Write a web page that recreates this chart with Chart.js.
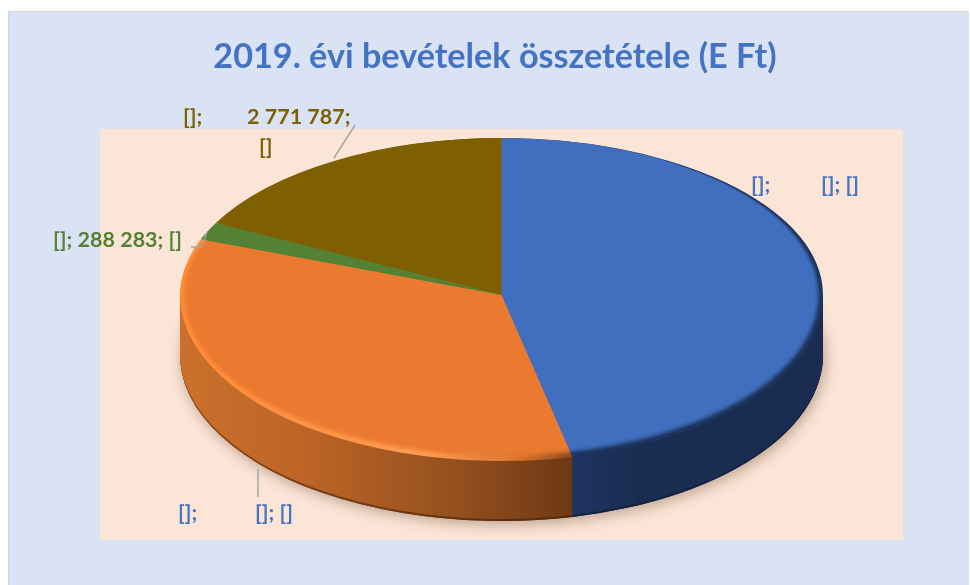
<!DOCTYPE html>
<html>
<head>
<meta charset="utf-8">
<script src="https://cdn.jsdelivr.net/npm/chart.js@4"></script>
<style>
  html, body { margin: 0; padding: 0; background: #fff; overflow: hidden; }
  #panel { position: absolute; left: 8px; top: 11px; width: 961px; height: 574px; background: #DAE3F3; border: 1px solid #D4D4D4; border-width: 1px 0 0 1px; box-sizing: border-box; }
  #plot { position: absolute; left: 100px; top: 129px; width: 803px; height: 411px; background: #FBE5D6; }
  canvas { position: absolute; left: 0; top: 0; }
</style>
</head>
<body>
<div id="panel"></div>
<div id="plot"></div>
<canvas id="pie" width="970" height="585"></canvas>
<script>
const chartTitle = "2019. évi bevételek összetétele (E Ft)";
// names and some values are blank in the picture, they show up as []
const categories = ["[]", "[]", "[]", "[]"];
const values = [7392000, 5458000, 288283, 2771787];
const sliceColors = ["#3F6FBE", "#EA7A30", "#548235", "#7F6000"];
const labelColors = ["#4472C4", "#4472C4", "#548235", "#7F6000"];

// ellipse the flat pie is squeezed into
const CX = 501.5, CY = 295, RX = 321.5, RY_TOP = 157, RY_BOTTOM = 166, DEPTH = 60;

const gradient = (ctx, arc, stops) => {
  // x stops are page pixels, the gradient lives in the scaled space of the arc
  const toLocal = (x) => arc.x + (x - CX) * arc.outerRadius / RX;
  const g = ctx.createLinearGradient(toLocal(stops[0][0]), 0, toLocal(stops[stops.length - 1][0]), 0);
  const span = stops[stops.length - 1][0] - stops[0][0];
  stops.forEach(([x, c]) => g.addColorStop((x - stops[0][0]) / span, c));
  return g;
};

const drawSlices = (ctx, arcs, fills) => {
  arcs.forEach((arc, i) => {
    const copy = Object.create(arc);
    copy.options = Object.assign({}, arc.options, { backgroundColor: fills[i] });
    copy.draw(ctx);
  });
};

const project = (ctx, arc, ry, shift) => {
  ctx.translate(CX, CY + shift);
  ctx.scale(RX / arc.outerRadius, ry / arc.outerRadius);
  ctx.translate(-arc.x, -arc.y);
};

const halfClip = (ctx, upper) => {
  ctx.beginPath();
  if (upper) ctx.rect(0, 0, 970, CY + 0.5);
  else ctx.rect(0, CY, 970, 585 - CY);
  ctx.clip();
};

const pie3d = {
  id: "pie3d",
  beforeDatasetsDraw(chart) {
    const ctx = chart.ctx;
    const arcs = chart.getDatasetMeta(0).data;
    const arc = arcs[0];

    const sideOrange = gradient(ctx, arc, [[180, "#CB712D"], [300, "#BE6526"], [450, "#96511F"], [571, "#6E3914"]]);
    const sideBlue = gradient(ctx, arc, [[571, "#1E3460"], [640, "#1A2D51"], [823, "#1A2D51"]]);
    const edgeOrange = gradient(ctx, arc, [[180, "#8A4A1C"], [571, "#552A0C"]]);
    const rimOrange = gradient(ctx, arc, [[180, "#FF8A36"], [420, "#FF9C52"], [520, "#D9742E"], [571, "#8F4D1D"]]);
    const sideFills = [sideBlue, sideOrange, sliceColors[2], sliceColors[3]];
    const edgeFills = ["#14233F", edgeOrange, sliceColors[2], sliceColors[3]];
    const rimFills = ["#1E3560", rimOrange, sliceColors[2], sliceColors[3]];

    // soft shadow under the disc
    ctx.save();
    halfClip(ctx, false);
    ctx.shadowColor = "rgba(95,60,35,0.42)";
    ctx.shadowBlur = 14;
    ctx.shadowOffsetY = 3;
    ctx.shadowOffsetX = 2;
    project(ctx, arc, RY_BOTTOM, DEPTH);
    drawSlices(ctx, arcs, edgeFills);
    ctx.restore();

    // side wall, one pixel layer at a time
    for (let k = DEPTH; k >= 1; k--) {
      ctx.save();
      halfClip(ctx, false);
      project(ctx, arc, RY_BOTTOM, k);
      drawSlices(ctx, arcs, k >= DEPTH - 1 ? edgeFills : sideFills);
      ctx.restore();
    }

    // top face, rim first and then the flat colours stepped inwards
    [[true, RY_TOP, 0], [false, RY_BOTTOM, 9]].forEach(([upper, ry, inset]) => {
      ctx.save();
      halfClip(ctx, upper);
      ctx.save();
      project(ctx, arc, ry, 0);
      drawSlices(ctx, arcs, rimFills);
      ctx.restore();
      [0.35, 0.5, 0.7, 1].forEach((alpha, i) => {
        const f = (i + 2) / 5;
        ctx.save();
        ctx.beginPath();
        ctx.ellipse(CX, CY, RX - 8 * f, ry - inset * f, 0, 0, Math.PI * 2);
        ctx.clip();
        ctx.globalAlpha = alpha;
        project(ctx, arc, ry, 0);
        drawSlices(ctx, arcs, sliceColors);
        ctx.restore();
      });
      ctx.restore();
    });
    return false;
  },
  afterDraw(chart) {
    const ctx = chart.ctx;
    const num = (v) => String(v).replace(/\B(?=(\d{3})+$)/g, " ");
    ctx.save();
    // leader lines
    ctx.strokeStyle = "#A6A6A6";
    ctx.lineWidth = 1.5;
    [
      [[355, 125], [334, 158]],
      [[207, 232], [202, 247], [191, 247]],
      [[258, 469], [258, 497]],
    ].forEach((pts) => {
      ctx.beginPath();
      pts.forEach(([x, y], i) => (i ? ctx.lineTo(x, y) : ctx.moveTo(x, y)));
      ctx.stroke();
    });
    // data labels
    ctx.font = "bold 21.5px Lato";
    ctx.textBaseline = "middle";
    ctx.textAlign = "left";
    const put = (i, text, x, y) => {
      ctx.fillStyle = labelColors[i];
      ctx.fillText(text, x, y);
    };
    put(0, categories[0] + ";", 751, 185);
    put(0, categories[0] + "; " + categories[0], 821, 185);
    put(1, categories[1] + ";", 178, 513);
    put(1, categories[1] + "; " + categories[1], 255, 513);
    put(2, categories[2] + "; " + num(values[2]) + "; " + categories[2], 53, 240);
    put(3, categories[3] + ";", 183, 117);
    put(3, num(values[3]) + ";", 247, 117);
    put(3, categories[3], 259, 147);
    ctx.restore();
  },
};

new Chart(document.getElementById("pie"), {
  type: "pie",
  plugins: [pie3d],
  data: {
    labels: categories,
    datasets: [{
      data: values,
      backgroundColor: sliceColors,
      borderWidth: 0,
      clip: false,
    }],
  },
  options: {
    responsive: false,
    animation: false,
    events: [],
    layout: { padding: { left: 20 } },
    plugins: {
      legend: { display: false },
      tooltip: { enabled: false },
      title: {
        display: true,
        text: chartTitle,
        color: "#4472C4",
        font: { family: "Lato", size: 34.2, weight: "bold" },
        padding: { top: 36, bottom: 0 },
      },
    },
  },
});
</script>
</body>
</html>
